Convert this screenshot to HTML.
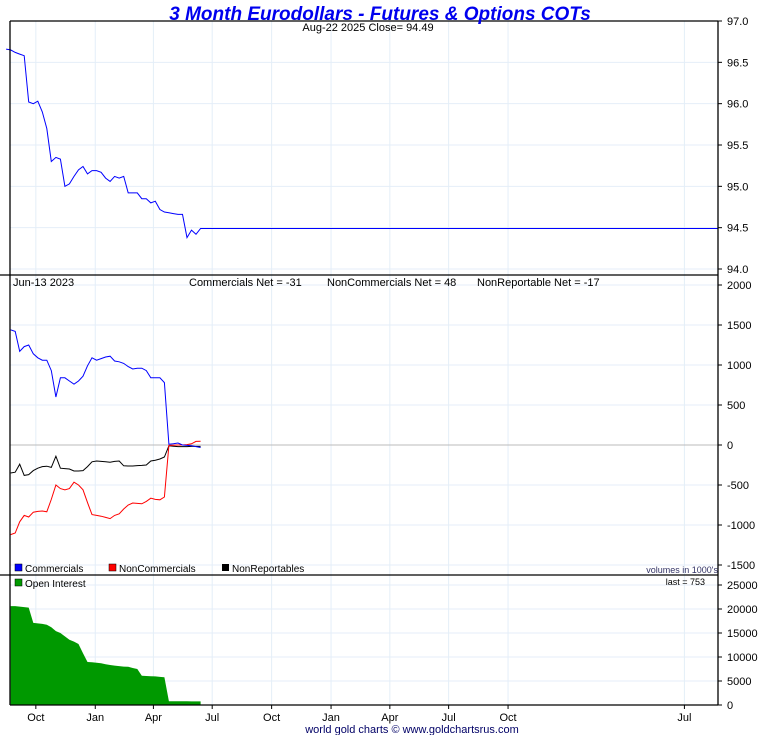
<!DOCTYPE html>
<html><head><meta charset="utf-8"><style>
html,body{margin:0;padding:0;background:#fff;}
svg{display:block;font-family:"Liberation Sans",sans-serif;}
</style></head><body>
<svg id="chart" width="760" height="735" viewBox="0 0 760 735" xmlns="http://www.w3.org/2000/svg">
<g id="grid"></g>
<g id="marks"></g>
<g id="axes"></g>
<text x="380" y="20" text-anchor="middle" font-size="19" font-weight="bold" font-style="italic" fill="#0000ee">3 Month Eurodollars - Futures &amp; Options COTs</text>
<text x="368" y="31" text-anchor="middle" font-size="11">Aug-22  2025   Close= 94.49</text>
<text x="13" y="286" font-size="11">Jun-13  2023</text>
<text x="189" y="286" font-size="11">Commercials Net = -31</text>
<text x="327" y="286" font-size="11">NonCommercials Net = 48</text>
<text x="477" y="286" font-size="11">NonReportable Net = -17</text>
<g font-size="10">
<rect x="15" y="564" width="7" height="7" fill="#0000ff" stroke="#000" stroke-width="0.5"/>
<text x="25" y="572">Commercials</text>
<rect x="109" y="564" width="7" height="7" fill="#ff0000" stroke="#000" stroke-width="0.5"/>
<text x="119" y="572">NonCommercials</text>
<rect x="222" y="564" width="7" height="7" fill="#000"/>
<text x="232" y="572">NonReportables</text>
<rect x="15" y="579" width="7" height="7" fill="#009900" stroke="#000" stroke-width="0.5"/>
<text x="25" y="587">Open Interest</text>
</g>
<text x="718" y="573" text-anchor="end" font-size="9" fill="#333366">volumes in 1000's</text>
<text x="705" y="585" text-anchor="end" font-size="9">last = 753</text>
<text x="412" y="733" text-anchor="middle" font-size="11" fill="#000066">world gold charts © www.goldchartsrus.com</text>
</svg>
<script>
const priceValues=[96.66,96.65,96.62,96.6,96.58,96.02,96.0,96.03,95.9,95.7,95.3,95.35,95.33,95.0,95.03,95.12,95.2,95.24,95.15,95.19,95.19,95.17,95.1,95.06,95.12,95.1,95.12,94.92,94.92,94.92,94.85,94.85,94.8,94.82,94.72,94.69,94.68,94.67,94.66,94.66,94.38,94.47,94.42,94.49];
const commercials=[1440,1420,1170,1230,1250,1140,1090,1060,1060,930,600,840,840,800,760,800,860,990,1090,1060,1080,1100,1110,1050,1040,1020,980,950,960,960,930,840,840,840,780,10,15,25,0,-5,-10,-20,-31];
const nonCommercials=[-1120,-1100,-960,-880,-900,-840,-830,-825,-835,-680,-500,-545,-560,-545,-465,-500,-560,-720,-870,-880,-890,-905,-920,-880,-860,-800,-750,-725,-730,-735,-705,-665,-680,-685,-650,-5,-2,0,0,5,15,45,48];
const nonReportables=[-350,-340,-240,-380,-370,-320,-290,-270,-265,-280,-140,-290,-295,-300,-325,-325,-320,-270,-210,-200,-205,-210,-215,-205,-200,-260,-262,-262,-258,-255,-250,-200,-190,-175,-150,-10,-15,-20,-20,-20,-18,-17,-17];
const openInterest=[20600,20600,20500,20400,20300,17100,17000,16900,16700,16200,15400,15000,14300,13600,13200,12700,10800,8960,8900,8800,8700,8500,8330,8200,8100,8000,7950,7700,7500,6100,6050,6000,5950,5850,5800,800,800,790,780,770,760,755,753];
const priceTicks=[97.0,96.5,96.0,95.5,95.0,94.5,94.0];
const cotTicks=[2000,1500,1000,500,0,-500,-1000,-1500];
const oiTicks=[25000,20000,15000,10000,5000,0];
const monthLabels=["Oct","Jan","Apr","Jul","Oct","Jan","Apr","Jul","Oct","Jan","Apr","Jul"];
const lastCotDate="2023-06-13";
const lastPriceDate="2025-08-22";
const NS="http://www.w3.org/2000/svg";
const X0=10,X1=718;
const d0=Date.UTC(2022,7,22), dEnd=Date.UTC(2025,7,22);
function xDate(t){return X0+(t-d0)/(dEnd-d0)*(X1-X0);}
function yPrice(v){return 21+(97-v)/3*248;}
function yCot(v){return 445-v*0.08;}
function yOI(v){return 705-v/25000*120;}
const grid=document.getElementById('grid'),marks=document.getElementById('marks'),axes=document.getElementById('axes');
function mk(tag,attrs,parent){const e=document.createElementNS(NS,tag);for(const k in attrs)e.setAttribute(k,attrs[k]);parent.appendChild(e);return e;}
const lastT=Date.parse(lastCotDate);
function xWeek(i,n){return xDate(lastT-(n-1-i)*7*864e5);}
// vertical grid & month ticks
monthLabels.forEach((m,i)=>{
  const yr=2022+Math.floor((i+1)/4); const mo=[9,0,3,6][i%4];
  const x=xDate(Date.UTC(yr,mo,1));
  const g=mk('line',{x1:x,x2:x,y1:21,y2:705,stroke:'#e4eef8','stroke-width':1},grid);
  
  
  const t=mk('line',{x1:x,x2:x,y1:705,y2:709,stroke:'#000'},axes);
  
  
  const l=mk('text',{x:x,y:721,'text-anchor':'middle','font-size':11},axes);
  l.textContent=m;
  
  
});
function yAxis(ticks,fn,fmt,minY,maxY){
  ticks.forEach(v=>{const y=fn(v);
    if(y>minY&&y<maxY){const g=mk('line',{x1:X0,x2:X1,y1:y,y2:y,stroke:'#e4eef8'},grid);
    
    }
    const t=mk('line',{x1:X1,x2:X1+4,y1:y,y2:y,stroke:'#000'},axes);
    
    
    const l=mk('text',{x:X1+9,y:y+4,'font-size':11},axes);l.textContent=fmt(v);
    
    
  });
}
yAxis(priceTicks,yPrice,v=>v.toFixed(1),21,275);
yAxis(cotTicks,yCot,v=>String(v),276,575);
yAxis(oiTicks,yOI,v=>String(v),576,705);
// zero line
const z=mk('line',{x1:X0,x2:X1,y1:yCot(0),y2:yCot(0),stroke:'#bbbbbb','stroke-width':1},grid);


// frame
[[X0,21,X1,21],[X0,21,X0,705],[X1,21,X1,705],[0,275,X1,275],[0,575,X1,575],[X0,705,X1,705]].forEach(a=>{
  const l=mk('line',{x1:a[0],y1:a[1],x2:a[2],y2:a[3],stroke:'#000','stroke-width':1.3},axes);
  
  
});
// price line
let pts=priceValues.map((v,i)=>xWeek(i,priceValues.length).toFixed(1)+','+yPrice(v).toFixed(1));
pts.push(xDate(Date.parse(lastPriceDate)).toFixed(1)+','+yPrice(priceValues[priceValues.length-1]).toFixed(1));
const pl=mk('polyline',{points:pts.join(' '),fill:'none',stroke:'#0000ff','stroke-width':1},marks);


function series(arr,color,name){
  const p=arr.map((v,i)=>xWeek(i,arr.length).toFixed(1)+','+yCot(v).toFixed(1)).join(' ');
  const e=mk('polyline',{points:p,fill:'none',stroke:color,'stroke-width':1},marks);
  
  
}
series(nonReportables,'#000000','nonreportables-line');
series(nonCommercials,'#ff0000','noncommercials-line');
series(commercials,'#0000ff','commercials-line');
// open interest area
const n=openInterest.length;
let ap=[xWeek(0,n).toFixed(1)+','+yOI(0)];
openInterest.forEach((v,i)=>ap.push(xWeek(i,n).toFixed(1)+','+yOI(v).toFixed(1)));
ap.push(xWeek(n-1,n).toFixed(1)+','+yOI(0));
const oa=mk('polygon',{points:ap.join(' '),fill:'#009900',stroke:'none'},marks);


</script>
</body></html>
